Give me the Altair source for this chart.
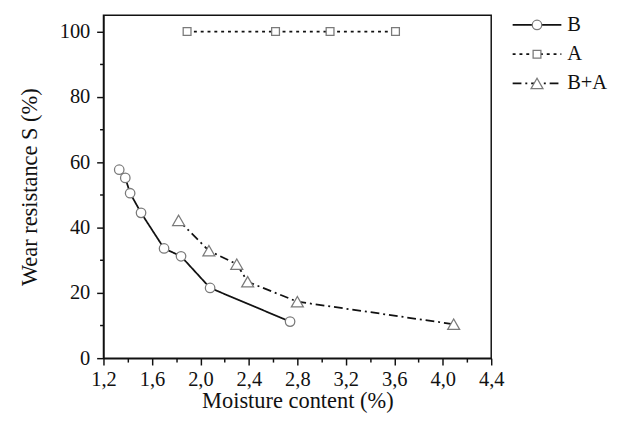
import altair as alt
import pandas as pd

# ---- data ----
series_names = ["B", "A", "B+A"]

b_x = [1.33, 1.38, 1.42, 1.51, 1.70, 1.84, 2.08, 2.74]
b_y = [57.7, 55.2, 50.5, 44.5, 33.6, 31.2, 21.5, 11.2]

a_x = [1.89, 2.62, 3.07, 3.61]
a_y = [100, 100, 100, 100]

ba_x = [1.82, 2.07, 2.30, 2.39, 2.80, 4.09]
ba_y = [42.2, 32.9, 28.8, 23.4, 17.3, 10.4]

x_ticks = [round(1.2 + 0.2 * i, 1) for i in range(17)]
y_ticks = list(range(0, 101, 10))

rows = []
for name, xs, ys in [("B", b_x, b_y), ("A", a_x, a_y), ("B+A", ba_x, ba_y)]:
    for i, (xv, yv) in enumerate(zip(xs, ys)):
        rows.append({"series": name, "x": xv, "y": yv, "i": i})
df = pd.DataFrame(rows)
leg_df = pd.DataFrame({"series": series_names, "row": list(range(len(series_names)))})

FONT = "'Liberation Serif', 'Times New Roman', 'DejaVu Serif', serif"
FS = 21
TFS = 23
INK = "#111111"
MARK_STROKE = "#7a7a7a"

dash_scale = alt.Scale(domain=series_names, range=[[1, 0], [3, 4], [9, 4, 2, 4]])
shape_scale = alt.Scale(domain=series_names, range=["circle", "square", "triangle-up"])
size_scale = alt.Scale(type="ordinal", domain=series_names, range=[95, 64, 150])

x_major = "round(datum.value*5) % 2 == 0"
y_major = "datum.value % 20 == 0"

x_axis = alt.Axis(
    values=x_ticks,
    labelExpr=f"{x_major} ? replace(format(datum.value, '.1f'), '.', ',') : ''",
    tickSize={"condition": {"test": x_major, "value": 7}, "value": 4},
    title="Moisture content (%)",
    titlePadding=1, labelPadding=4,
    labelFont=FONT, titleFont=FONT, titleFontSize=TFS,
)
y_axis = alt.Axis(
    values=y_ticks,
    labelExpr=f"{y_major} ? format(datum.value, 'd') : ''",
    tickSize={"condition": {"test": y_major, "value": 7}, "value": 4},
    title="Wear resistance S (%)",
    titlePadding=18, labelPadding=7,
    labelFont=FONT, titleFont=FONT, titleFontSize=TFS,
)

X = alt.X("x:Q", scale=alt.Scale(domain=[1.2, 4.4], nice=False, zero=False), axis=x_axis)
Y = alt.Y("y:Q", scale=alt.Scale(domain=[0, 105], nice=False, zero=False), axis=y_axis)

lines = alt.Chart(df).mark_line(color=INK, strokeWidth=1.8).encode(
    x=X, y=Y,
    strokeDash=alt.StrokeDash("series:N", scale=dash_scale, legend=None),
    order="i:Q",
)
points = alt.Chart(df).mark_point(
    filled=True, fill="white", stroke=MARK_STROKE, strokeWidth=1.3, opacity=1
).encode(
    x=X, y=Y,
    shape=alt.Shape("series:N", scale=shape_scale, legend=None),
    size=alt.Size("series:N", scale=size_scale, legend=None),
)

main = alt.layer(lines, points).properties(
    width=398, height=352,
    view=alt.ViewBackground(stroke=INK, strokeWidth=1.5),
)

LY = alt.Y("row:Q", axis=None,
           scale=alt.Scale(domain=[0, 2], range=[10, 70], nice=False, zero=False))

leg_lines = alt.Chart(leg_df).mark_rule(color=INK, strokeWidth=1.8).encode(
    x=alt.value(0), x2=alt.value(50), y=LY,
    strokeDash=alt.StrokeDash("series:N", scale=dash_scale, legend=None),
)
leg_points = alt.Chart(leg_df).mark_point(
    filled=True, fill="white", stroke=MARK_STROKE, strokeWidth=1.3, opacity=1
).encode(
    x=alt.value(25), y=LY,
    shape=alt.Shape("series:N", scale=shape_scale, legend=None),
    size=alt.Size("series:N", scale=size_scale, legend=None),
)
leg_text = alt.Chart(leg_df).mark_text(
    align="left", baseline="middle", font=FONT, fontSize=FS, color=INK
).encode(x=alt.value(56), y=LY, text="series:N")

legend = alt.layer(leg_lines, leg_points, leg_text).properties(width=95, height=352)

chart = (
    alt.hconcat(main, legend, spacing=6)
    .properties(padding={"left": 10, "top": 0, "right": 5, "bottom": 0})
    .configure(font=FONT)
    .configure_view(stroke="transparent")
    .configure_axis(
        grid=False, domainColor=INK, tickColor=INK, tickWidth=1.5, domainWidth=1.5,
        labelFont=FONT, labelFontSize=FS, labelColor=INK,
        titleFont=FONT, titleFontSize=TFS, titleFontWeight="normal", titleColor=INK,
        labelFlush=False, labelOverlap=False,
    )
    .configure_text(font=FONT)
)

chart.save("out.html", embed_options={"renderer": "svg", "actions": False})
